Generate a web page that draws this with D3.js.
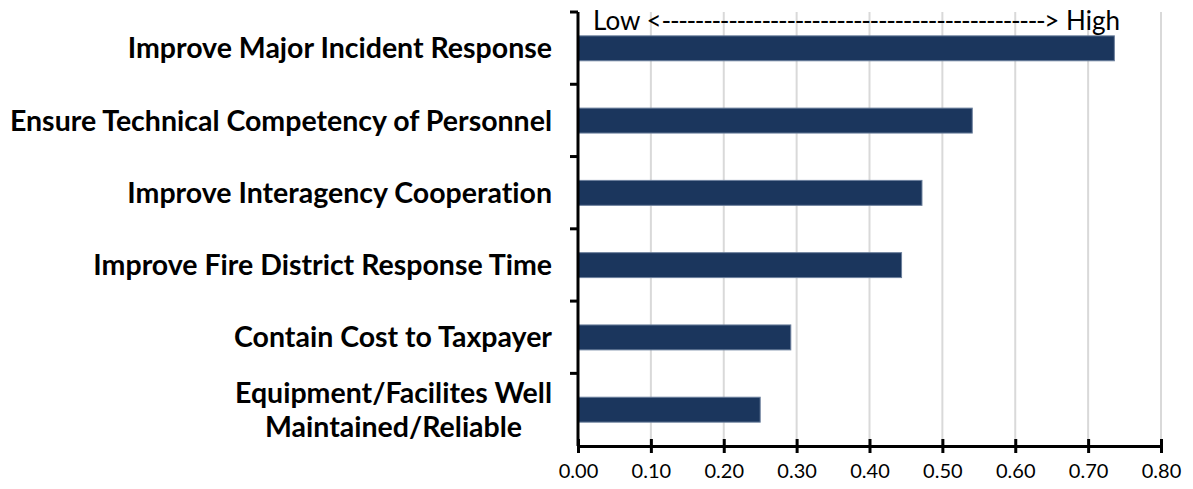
<!DOCTYPE html>
<html>
<head>
<meta charset="utf-8">
<script src="https://d3js.org/d3.v7.min.js"></script>
<style>
  body { margin: 0; background: #fff; }
  svg { display: block; font-family: Lato, "Open Sans", sans-serif; font-variant-ligatures: none; font-feature-settings: "liga" 0; }
</style>
</head>
<body>
<div id="svg-area"></div>
<script>
// Priorities, top to bottom
var categories = [
  "Improve Major Incident Response",
  "Ensure Technical Competency of Personnel",
  "Improve Interagency Cooperation",
  "Improve Fire District Response Time",
  "Contain Cost to Taxpayer",
  "Equipment/Facilites Well|Maintained/Reliable"
];
var values = [0.736, 0.541, 0.472, 0.444, 0.292, 0.250];
var xTicks = [0, 0.1, 0.2, 0.3, 0.4, 0.5, 0.6, 0.7, 0.8];
var noteLow = "Low <";
var noteDashes = "-".repeat(46);
var noteHigh = "> High";

var svgWidth = 1193;
var svgHeight = 489;

var margin = { top: 12, right: 32, bottom: 43, left: 578 };
var chartWidth = svgWidth - margin.left - margin.right;
var chartHeight = svgHeight - margin.top - margin.bottom;

var svg = d3.select("#svg-area")
  .append("svg")
  .attr("width", svgWidth)
  .attr("height", svgHeight);

var chartGroup = svg.append("g")
  .attr("transform", `translate(${margin.left}, ${margin.top})`);

var xScale = d3.scaleLinear()
  .domain([0, 0.8])
  .range([0, chartWidth]);

var yBand = d3.scaleBand()
  .domain(categories)
  .range([0, chartHeight])
  .paddingInner(0.655)
  .paddingOuter(0.33);

// vertical gridlines
chartGroup.append("g")
  .selectAll("line")
  .data(xTicks.slice(1))
  .enter()
  .append("line")
  .attr("x1", d => xScale(d))
  .attr("x2", d => xScale(d))
  .attr("y1", 0)
  .attr("y2", chartHeight)
  .attr("stroke", "#d9d9d9")
  .attr("stroke-width", 2);

// bars
chartGroup.append("g")
  .selectAll("rect")
  .data(values)
  .enter()
  .append("rect")
  .attr("x", xScale(0))
  .attr("y", (d, i) => yBand(categories[i]))
  .attr("width", d => xScale(d))
  .attr("height", yBand.bandwidth())
  .attr("fill", "#1b365d")
  .attr("stroke", "#6b7f9c")
  .attr("stroke-width", 1);

// x axis with crossing ticks
var bottomAxis = d3.axisBottom(xScale)
  .tickValues(xTicks)
  .tickFormat(d3.format(".2f"))
  .tickSizeInner(7)
  .tickSizeOuter(0)
  .tickPadding(11);

var xAxisG = chartGroup.append("g")
  .attr("transform", `translate(0, ${chartHeight})`)
  .call(bottomAxis);
xAxisG.select(".domain").attr("stroke", "#000").attr("stroke-width", 3);
xAxisG.selectAll(".tick line")
  .attr("y1", -7)
  .attr("stroke", "#000")
  .attr("stroke-width", 3);
xAxisG.selectAll(".tick text")
  .attr("font-family", "Lato, sans-serif")
  .attr("font-size", 20)
  .attr("fill", "#000");

// y axis: ticks on category boundaries
var boundaries = categories.map((c, i) => i * yBand.step());
var leftG = chartGroup.append("g");
leftG.append("line")
  .attr("x1", 0).attr("x2", 0)
  .attr("y1", 0).attr("y2", chartHeight)
  .attr("stroke", "#000")
  .attr("stroke-width", 3);
leftG.selectAll(".btick")
  .data(boundaries)
  .enter()
  .append("line")
  .attr("x1", -8).attr("x2", 0)
  .attr("y1", d => d).attr("y2", d => d)
  .attr("stroke", "#000")
  .attr("stroke-width", 3);

// category labels
var labels = chartGroup.append("g")
  .selectAll("text")
  .data(categories)
  .enter()
  .append("text")
  .attr("text-anchor", "middle")
  .attr("font-size", 28.5)
  .attr("font-weight", "bold")
  .attr("fill", "#000")
  .each(function(d) {
    var lines = d.split("|");
    var t = d3.select(this);
    var cy = yBand(d) + yBand.bandwidth() / 2;
    lines.forEach(function(line, k) {
      t.append("tspan")
        .attr("y", cy + (k - (lines.length - 1) / 2) * 34)
        .attr("dy", "0.35em")
        .text(line);
    });
  });

// right-align the block, centre lines within it
labels.each(function() {
  var t = d3.select(this);
  var widths = [];
  t.selectAll("tspan").each(function() { widths.push(this.getComputedTextLength()); });
  var w = d3.max(widths);
  t.selectAll("tspan").attr("x", -26 - w / 2);
});

// low -> high note, one text with the dashes spaced to fill the span
var note = chartGroup.append("text")
  .attr("x", 15)
  .attr("y", 18)
  .attr("font-size", 26)
  .attr("fill", "#000");
note.append("tspan").text(noteLow);
var dashSpan = note.append("tspan").text(noteDashes);
note.append("tspan").text(noteHigh);
var natural = note.node().getComputedTextLength();
var targetWidth = 527;
dashSpan.attr("letter-spacing", (targetWidth - natural) / noteDashes.length);
</script>
</body>
</html>
